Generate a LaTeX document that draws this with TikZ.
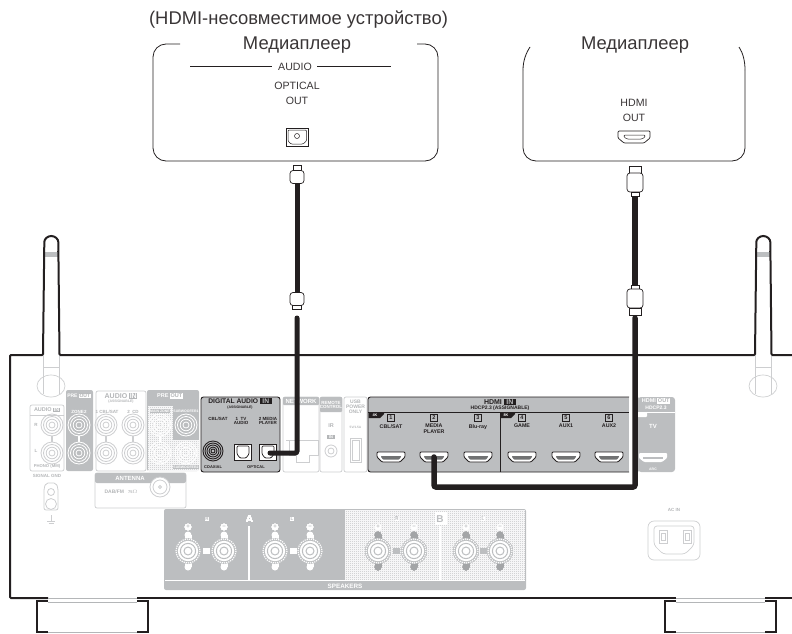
\documentclass[tikz,border=0pt]{standalone}
\usepackage{fontspec}
\setmainfont{Liberation Sans}
\usetikzlibrary{patterns,calc}
\definecolor{ink}{HTML}{231F20}
\definecolor{panelgray}{HTML}{BCBEC0}
\definecolor{pillgray}{HTML}{A3A5A7}
\definecolor{fadeline}{HTML}{CDCED0}
\definecolor{fadetext}{HTML}{B4B6B8}
\pgfdeclarepatternformonly{finedots}{\pgfqpoint{0pt}{0pt}}{\pgfqpoint{2pt}{2pt}}{\pgfqpoint{2pt}{2pt}}{
  \pgfpathrectangle{\pgfqpoint{0pt}{0pt}}{\pgfqpoint{1pt}{1pt}}
  \pgfpathrectangle{\pgfqpoint{1pt}{1pt}}{\pgfqpoint{1pt}{1pt}}
  \pgfusepath{fill}}
\newcommand{\fs}[1]{\fontsize{#1}{#1}\selectfont}
\newcommand{\inbox}[2]{{\setlength{\fboxsep}{0.6pt}\colorbox{#1}{#2}}}
% rca jack: x, y, line colour
\newcommand{\rcajack}[3]{
  \foreach \rr in {3,5.8,8.5,11} \draw[#3,line width=0.8pt] (#1,#2) circle[radius=\rr];
}
% speaker terminal: x, y, pill colour, rim colour
\newcommand{\spkterm}[4]{
  \fill[#3] (#1-3.5,#2-16) rectangle (#1+3.5,#2+16);
  \fill[#3] (#1,#2-16) circle[radius=3.5] (#1,#2+16) circle[radius=3.5];
  \fill[panelgray] (#1,#2) circle[radius=13];
  \draw[#4,line width=1.2pt,densely dotted] (#1,#2) circle[radius=12];
  \fill[white] (#1,#2) circle[radius=10.2];
  \draw[panelgray,line width=1pt] (#1,#2) circle[radius=7.6];
  \draw[panelgray,line width=1pt] (#1,#2) circle[radius=4];
}
% hdmi socket: x, y, outline colour, inner colour
\newcommand{\hdmisock}[4]{
  \draw[#3,fill=white,line width=0.8pt,rounded corners=1pt] (#1-14,#2-5) -- (#1+14,#2-5) -- (#1+14,#2) -- (#1+9,#2+5) -- (#1-9,#2+5) -- (#1-14,#2) -- cycle;
  \fill[#4,rounded corners=0.5pt] (#1-10,#2-1) -- (#1+10,#2-1) -- (#1+10,#2) -- (#1+8,#2+2.5) -- (#1-8,#2+2.5) -- (#1-10,#2) -- cycle;
}
\tikzset{
  chassis/.style={ink,line width=2pt},
  devbox/.style={ink,line width=0.8pt},
  cable/.style={ink,line width=5pt,rounded corners=2pt},
  plug/.style={draw=ink,fill=white,line width=0.7pt,inner sep=0pt},
  lightpanel/.style={draw=fadeline,fill=white,line width=0.7pt,rounded corners=2pt},
  graypanel/.style={fill=panelgray,rounded corners=2pt},
  dotpanel/.style={pattern=finedots,pattern color=panelgray},
  fade/.style={fadetext,font=\bfseries\fs{#1},inner sep=0pt,align=center},
  fade/.default=5,
  whitetxt/.style={white,font=\bfseries\fs{#1},inner sep=0pt,align=center},
  whitetxt/.default=5,
  darktxt/.style={ink,font=\bfseries\fs{#1},inner sep=0pt,align=center},
  darktxt/.default=4.5,
  captxt/.style={ink!90,font=\fs{#1},inner sep=0pt,align=center},
  captxt/.default=10.6
}
\begin{document}
\begin{tikzpicture}[x=1pt,y=-1pt]
  \useasboundingbox (0,0) rectangle (792,634);

  % antennas, faded part
  \foreach \ax in {51,763} {
    \draw[fadeline,line width=0.7pt] (\ax-8,355) -- (\ax-8,394) (\ax+8,355) -- (\ax+8,394) (\ax-8,367) -- (\ax+8,367);
    \draw[fadeline,line width=0.7pt] (\ax,386) circle[x radius=14,y radius=11];
    \fill[panelgray] (\ax-6.5,252) rectangle (\ax+6.5,257);
  }

  % chassis
  \draw[chassis,rounded corners=1pt] (48,598) -- (10,598) -- (10,355) -- (43,355) -- (44.3,243) arc[start angle=180,end angle=360,radius=7] -- (59.5,355) -- (755,355) -- (756.3,243) arc[start angle=180,end angle=360,radius=7] -- (771.5,355) -- (792,355);
  \draw[chassis] (137,598) -- (676,598) (765,598) -- (792,598);
  \foreach \ax in {51,763} \draw[ink,line width=0.7pt] (\ax-8,251) -- (\ax-6,251) (\ax+6,251) -- (\ax+8,251);

  % feet
  \foreach \fx/\fw in {37/111,665/111} {
    \draw[chassis] (\fx+11,601) -- (\fx,601) -- (\fx,632) -- (\fx+11,632);
    \draw[chassis] (\fx+\fw-11,601) -- (\fx+\fw,601) -- (\fx+\fw,632) -- (\fx+\fw-11,632);
    \draw[fadetext,line width=0.8pt] (\fx+11,598) -- (\fx+\fw-11,598) (\fx+11,602) -- (\fx+\fw-11,602) (\fx+11,632) -- (\fx+\fw-11,632);
  }

  % audio in
  \draw[lightpanel] (30,405) rectangle (64,471);
  \node[fade=5.5] (audioin) at (47,410) {AUDIO \inbox{fadetext}{\color{white}IN}};
  \draw[fadeline] (30,415) -- (64,415);
  \node[fade=4.5] (chr) at (36,425) {R};
  \node[fade=4.5] (chl) at (36,451) {L};
  \node[fade=4.2] (phono) at (47,466) {PHONO (MM)};
  \rcajack{52}{425}{fadeline}
  \rcajack{52}{453}{fadeline}
  \draw[fadeline,line width=1.2pt] (52,436) -- (52,442);

  % pre out zone2
  \fill[graypanel] (66,390) rectangle (93,471);
  \node[whitetxt=5] (preoutz) at (79,396) {PRE \inbox{white}{\color{fadetext}OUT}};
  \node[whitetxt=4.5] (zonetwo) at (79,412) {ZONE2};
  \rcajack{79}{425}{white}
  \rcajack{79}{453}{white}
  \draw[white,line width=1.2pt] (79,436) -- (79,442);

  % audio in assignable
  \draw[lightpanel] (96,391) rectangle (146,471);
  \node[fade=7] (audioasg) at (121,396) {AUDIO \inbox{fadetext}{\color{white}IN}};
  \node[fade=3.5] (asgone) at (121,401.5) {(ASSIGNABLE)};
  \node[fade=4.5] (cblsat) at (107,412) {1 CBL/SAT};
  \node[fade=4.5] (cdtwo) at (133,412) {2\ \ CD};
  \foreach \jx in {106,133} {
    \rcajack{\jx}{425}{fadeline}
    \rcajack{\jx}{453}{fadeline}
    \draw[fadeline,line width=1.2pt] (\jx,436) -- (\jx,442);
  }

  % pre out main zone / subwoofer
  \fill[graypanel] (147,390) rectangle (199,471);
  \fill[white] (147.5,406) rectangle (198.5,470.5);
  \fill[dotpanel] (147.5,406) rectangle (173,470.5);
  \fill[panelgray] (173,406) rectangle (198.5,440);
  \fill[dotpanel] (173,440) rectangle (198.5,470.5);
  \node[whitetxt=5.5] (preoutm) at (170,396) {PRE \inbox{white}{\color{fadetext}OUT}};
  \node[whitetxt=3.5,fill=panelgray,inner sep=0.5pt] (mainzone) at (160,411) {MAIN ZONE};
  \node[whitetxt=3.5] (subone) at (186,411) {SUBWOOFER1};
  \node[whitetxt=3.5,fill=panelgray,inner sep=0.5pt] (subtwo) at (186,467) {SUBWOOFER2};
  \rcajack{160}{425}{white}
  \rcajack{160}{453}{white}
  \rcajack{186}{425}{white}
  \rcajack{186}{453}{white}
  \draw[white,line width=1.2pt] (160,436) -- (160,442);

  % antenna jack
  \draw[lightpanel] (95,473) rectangle (186,508);
  \fill[panelgray,rounded corners=2pt] (95,473) rectangle (186,483);
  \node[whitetxt=6] (antenna) at (130,478) {ANTENNA};
  \node[fade=5] (dabfm) at (121,492) {DAB/FM\ \ \ \fs{4}75$\Omega$};
  \draw[fadeline,line width=0.8pt,fill=white] (160,487) circle[radius=10] (160,487) circle[radius=7] (160,487) circle[radius=1.5];

  % signal gnd
  \node[fade=4.5] (signalgnd) at (47,476) {SIGNAL GND};
  \draw[fadeline,line width=0.8pt,rounded corners=2pt] (46,483) -- (56,483) -- (58,488) -- (58,510) -- (44,510) -- (44,488) -- cycle;
  \draw[fadeline,line width=0.8pt] (51,492) circle[radius=3.5] (51,504) circle[radius=5.5];
  \draw[fadeline,line width=0.8pt] (51,515) -- (51,521) (47,521) -- (55,521) (48.5,523) -- (53.5,523);

  % digital audio in
  \draw[draw=ink,fill=panelgray,line width=0.9pt,rounded corners=2.5pt] (201,397) rectangle (280,472);
  \node[darktxt=6.7] (digital) at (240,401) {DIGITAL AUDIO \inbox{ink}{\color{panelgray}\ IN\ }};
  \node[darktxt=3.5] (digasg) at (240,408) {(ASSIGNABLE)};
  \node[darktxt=4.5] (digcbl) at (218,419) {CBL/SAT};
  \node[darktxt=4.5] (digtv) at (241,421) {1\ \ TV\\AUDIO};
  \node[darktxt=4.5] (digmedia) at (268,421) {2 MEDIA\\PLAYER};
  \node[darktxt=4] (coaxial) at (213,467) {COAXIAL};
  \node[darktxt=4] (optical) at (256,467) {OPTICAL};
  \foreach \rr in {2,4,6,8,10} \draw[ink,line width=0.9pt] (213,451) circle[radius=\rr];
  \foreach \ox in {243,268} {
    \draw[ink,fill=white,line width=0.8pt] (\ox-8.5,444) rectangle (\ox+8.5,460);
    \draw[ink,line width=0.7pt,rounded corners=1pt] (\ox-6,446) -- (\ox+6,446) -- (\ox+6,454) -- (\ox+3,458) -- (\ox-3,458) -- (\ox-6,454) -- cycle;
  }

  % network
  \draw[lightpanel] (283,397) rectangle (319,472);
  \fill[panelgray,rounded corners=1pt] (283,397) rectangle (319,405);
  \node[whitetxt=6] (network) at (301,401) {NETWORK};
  \draw[fadeline,line width=0.8pt] (286,440) -- (289,440) -- (289,455) -- (296,455) -- (296,462) -- (309,462) -- (309,455) -- (318,455) -- (318,440) -- (286,440);

  % remote control
  \draw[lightpanel] (320,397) rectangle (342,472);
  \fill[panelgray,rounded corners=1pt] (320,397) rectangle (342,412);
  \node[whitetxt=4.5] (remote) at (331,405) {REMOTE\\CONTROL};
  \node[fade=5.5] (irtxt) at (331,426) {IR};
  \node[whitetxt=4] (irin) at (331,437) {\inbox{fadetext}{\ IN\ }};
  \draw[fadeline,line width=0.8pt] (331,451) circle[radius=6] (331,451) circle[radius=3];

  % usb
  \draw[lightpanel] (344,397) rectangle (367,472);
  \node[fade=5] (usbpower) at (355.5,407) {USB\\POWER\\ONLY};
  \node[fade=3.2] (usbfive) at (355.5,427) {5V/1.5A};
  \draw[fadeline,line width=0.8pt] (350,438) rectangle (361,462) (352,440) rectangle (359,460);

  % hdmi in
  \fill[panelgray,rounded corners=3pt] (368,397) rectangle (640,472);
  \fill[white] (629,396) rectangle (637,473);
  \draw[ink,line width=0.9pt,rounded corners=2.5pt] (629,397) -- (368,397) -- (368,472) -- (629,472);
  \draw[ink,line width=0.8pt] (368,412) -- (629,412) (500,412) -- (500,472);
  \node[darktxt=7] (hdmiin) at (500,402) {HDMI \inbox{ink}{\color{panelgray}\ IN\ }};
  \node[darktxt=5] (hdcpin) at (500,408.5) {HDCP2.3 (ASSIGNABLE)};
  \fill[ink] (368.5,412) -- (384,412) -- (384,414) -- (380,418) -- (368.5,418) -- cycle;
  \fill[ink] (500.5,412) -- (515,412) -- (515,414) -- (511,418) -- (500.5,418) -- cycle;
  \node[whitetxt=3.8] (fourk) at (375,415) {4K};
  \node[whitetxt=3.8] (eightk) at (506,415) {8K};
  \foreach \px/\pn/\pt in {391/1/CBL\slash SAT,434/2/MEDIA\\PLAYER,478/3/Blu-ray,522/4/GAME,566/5/AUX1,609/6/AUX2} {
    \node[draw=ink,line width=0.6pt,darktxt=5.5,minimum width=7.5pt,minimum height=7.5pt] (num\pn) at (\px,418) {\pn};
    \node[darktxt=5.3,anchor=north] (name\pn) at (\px,424) {\pt};
    \hdmisock{\px}{457}{ink}{panelgray!60!black}
  }
  \coordinate (mediaport) at (434,457);

  % hdmi out
  \fill[panelgray,rounded corners=3pt] (638,397) rectangle (675,472);
  \fill[white] (638,412) rectangle (675,412.7);
  \fill[white,rounded corners=1pt] (637,412) rectangle (647,417);
  \node[whitetxt=5.5] (hdmiout) at (656,401) {HDMI \inbox{white}{\color{fadetext}OUT}};
  \node[whitetxt=5] (hdcpout) at (656,408) {HDCP2.3};
  \node[whitetxt=6] (tvtxt) at (653,426) {TV};
  \fill[white,rounded corners=1pt] (639,453) -- (667,453) -- (667,458) -- (662,462) -- (644,462) -- (639,458) -- cycle;
  \fill[panelgray] (643,457) rectangle (663,458.5);
  \node[whitetxt=3.5] (arctxt) at (653,469) {ARC};

  % speakers
  \fill[panelgray,rounded corners=2pt] (164,509) rectangle (526,590);
  \fill[white] (345,510) rectangle (525,580.5);
  \fill[dotpanel] (345,510) rectangle (525,580.5);
  \fill[white] (165,580) rectangle (525,581);
  \fill[white] (248,526) rectangle (250,581);
  \fill[white] (439,526) rectangle (441,581);
  \fill[white] (435,512) rectangle (447,525);
  \foreach \lx in {203,289.5} \fill[white] (\lx,548) rectangle (\lx+7,554);
  \foreach \lx in {393,480} \fill[panelgray] (\lx,548) rectangle (\lx+7,554);
  \foreach \tx in {188,224,275,310} \spkterm{\tx}{551}{white}{white}
  \foreach \tx in {378,414,466,500} \spkterm{\tx}{551}{pillgray}{white}
  \foreach \tx/\tn in {188/plusa,275/plusb,378/plusc,466/plusd} {
    \node[whitetxt=6,draw=white,fill=white,text=panelgray,circle,inner sep=0pt,minimum size=6pt] (\tn) at (\tx,527) {+};
  }
  \foreach \tx/\tn in {224/minusa,310/minusb,414/minusc,500/minusd} {
    \node[whitetxt=6,draw=white,fill=white,text=panelgray,circle,inner sep=0pt,minimum size=6pt] (\tn) at (\tx,527) {−};
  }
  \foreach \tx/\tl/\tn in {207/R/spkra,292/L/spkla,397/R/spkrb,483/L/spklb} {
    \node[whitetxt=4.5,fill=white,text=panelgray,inner sep=0.7pt] (\tn) at (\tx,519) {\tl};
  }
  \node[whitetxt=10] (spka) at (249.5,519) {A};
  \node[whitetxt=10,text=panelgray] (spkb) at (440,519) {B};
  \node[whitetxt=6.3] (speakers) at (345,586) {SPEAKERS};

  % ac in
  \node[fade=4.5] (acin) at (674,510) {AC IN};
  \draw[fadeline,line width=0.7pt,rounded corners=6pt] (648,521) rectangle (700,560);
  \draw[fadeline,line width=0.7pt,rounded corners=3pt] (654,526) -- (694,526) -- (694,545) -- (685,554) -- (663,554) -- (654,545) -- cycle;
  \foreach \acx in {663,687} \draw[fadeline,line width=0.7pt] (\acx-4,530) rectangle (\acx+4,543) (\acx-2,533) rectangle (\acx+2,540);

  % devices
  \node[captxt=18.4] (hdminote) at (298.5,20) {(HDMI-несовместимое устройство)};
  \node[captxt=18.4] (playera) at (297,45) {Медиаплеер};
  \node[captxt=18.4] (playerb) at (635,45) {Медиаплеер};
  \draw[devbox,rounded corners=13pt] (180,44) -- (153,44) -- (153,161) -- (438,161) -- (438,44) -- (417,44);
  \draw[devbox,rounded corners=13pt] (523,70) -- (523,161) -- (745,161) -- (745,70);
  \draw[devbox] (530,47) .. controls (526,53) and (523,61) .. (523,70);
  \draw[devbox] (739,47) .. controls (743,53) and (745,61) .. (745,70);
  \node[captxt] (audiotxt) at (295,67) {AUDIO};
  \draw[devbox] (190,66) -- (272,66) (317,66) -- (391,66);
  \node[captxt] (opttxt) at (297,86) {OPTICAL};
  \node[captxt] (outa) at (297,101) {OUT};
  \draw[ink,line width=0.7pt] (286,128) rectangle (308.5,146);
  \draw[ink,line width=0.5pt,rounded corners=1pt] (288,130) -- (306.5,130) -- (306.5,141) -- (303,144) -- (291,144) -- (288,141) -- cycle;
  \draw[ink,line width=0.5pt] (297,136) circle[radius=2.5];
  \node[captxt] (hdmitxt) at (634,103) {HDMI};
  \node[captxt] (outb) at (634,118) {OUT};
  \draw[ink,line width=0.7pt,rounded corners=1pt] (618,131) -- (650,131) -- (650,138) -- (644,143) -- (624,143) -- (618,138) -- cycle;
  \draw[ink,line width=0.5pt,rounded corners=1pt] (624,135) -- (645,135) -- (645,137) -- (642,139) -- (627,139) -- (624,137) -- cycle;

  % optical cable
  \node[plug,minimum width=8pt,minimum height=6pt] (opttipa) at (297,168) {};
  \node[plug,rounded corners=3pt,minimum width=14pt,minimum height=13pt] (optpluga) at (297,177) {};
  \node[plug,rounded corners=3pt,minimum width=14pt,minimum height=13pt] (optplugb) at (297,299) {};
  \node[plug,minimum width=9pt,minimum height=4pt] (opttipb) at (297,307) {};
  \draw[cable] (optplugb.north) -- (optpluga.south);
  \coordinate (optend) at (297,318);
  \coordinate (optbend) at (297,453);
  \coordinate (optport) at (270,453);
  \draw[cable,line cap=round] (optend) -- (optbend) -- (optport);

  % hdmi cable
  \node[plug,minimum width=12pt,minimum height=7pt] (htipa) at (635,169.5) {};
  \node[plug,rounded corners=3pt,minimum width=16pt,minimum height=19pt] (hpluga) at (635,182.5) {};
  \node[plug,minimum width=8pt,minimum height=4pt] (hnecka) at (635,194) {};
  \node[plug,minimum width=8pt,minimum height=4pt] (hneckb) at (635,287) {};
  \node[plug,rounded corners=3pt,minimum width=16pt,minimum height=19pt] (hplugb) at (635,298.5) {};
  \node[plug,minimum width=12pt,minimum height=7pt] (htipb) at (635,311.5) {};
  \draw[cable,line width=5.5pt] (hnecka.south) -- (hneckb.north);
  \coordinate (hend) at (635,318);
  \coordinate (hbenda) at (635,487);
  \coordinate (hbendb) at (434,487);
  \draw[cable,line width=5.5pt,line cap=round] (hend) -- (hbenda) -- (hbendb) -- (mediaport);
\end{tikzpicture}
\end{document}
